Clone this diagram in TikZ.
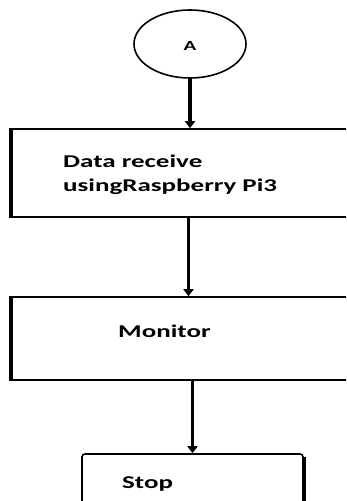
\documentclass[tikz,border=0pt]{standalone}
\usepackage{fontspec}
\setmainfont{Carlito}[FakeStretch=1.5]
\usetikzlibrary{shapes.geometric,arrows.meta}

\tikzset{
  ovalnode/.style={draw, ellipse, line width=1.6pt, minimum width=112pt, minimum height=68pt, inner sep=0pt},
  stepbox/.style={draw, rectangle, line width=1.6pt, inner sep=0pt},
  boxtext/.style={anchor=west, align=left, inner sep=0pt, font=\fontsize{18}{24}\selectfont\bfseries},
  flowarrow/.style={line width=3.6pt, -{Triangle[width=10pt,length=7pt]}},
  thickedge/.style={line width=4.5pt}
}

\begin{document}
\begin{tikzpicture}[x=1pt, y=-1pt]

 %%%%%%%%%% Page frame %%%%%%%%%%
 \useasboundingbox (0,0) rectangle (346,501);
 \clip (0,0) rectangle (346,501);

 %%%%%%%%%% Blocks %%%%%%%%%%
 \node[ovalnode] (A) at (190,44) {};
 \node[font=\fontsize{14}{16}\selectfont\bfseries] (Alabel) at (190,46) {A};

 \node[stepbox, minimum width=353pt, minimum height=88pt] (recv) at (188.5,173) {};
 \node[stepbox, minimum width=353pt, minimum height=83pt] (mon) at (188.5,338.5) {};
 \node[stepbox, rounded corners=3pt, minimum width=221pt, minimum height=90pt] (stop) at (192.5,499) {};

 %%%%%%%%%% Texts %%%%%%%%%%
 \node[boxtext] (recvtext) at (63,175) {Data receive\\usingRaspberry Pi3};
 \node[boxtext] (montext) at (118,331) {Monitor};
 \node[boxtext] (stoptext) at (122,484) {Stop};

 %%%%%%%%%% Heavy edges %%%%%%%%%%
 \draw [thickedge] (recv.north west) -- (recv.south west);
 \draw [thickedge] (mon.north west) -- (mon.south west);
 \draw [thickedge] ([yshift=-4pt]stop.north east) -- (stop.south east);

 %%%%%%%%%% Arrows %%%%%%%%%%
 \draw [flowarrow] (A.south) -- (A.south |- recv.north);
 \draw [flowarrow] (recv.south) -- (mon.north);
 \draw [flowarrow] (mon.south -| stop.north) -- (stop.north);

\end{tikzpicture}
\end{document}
